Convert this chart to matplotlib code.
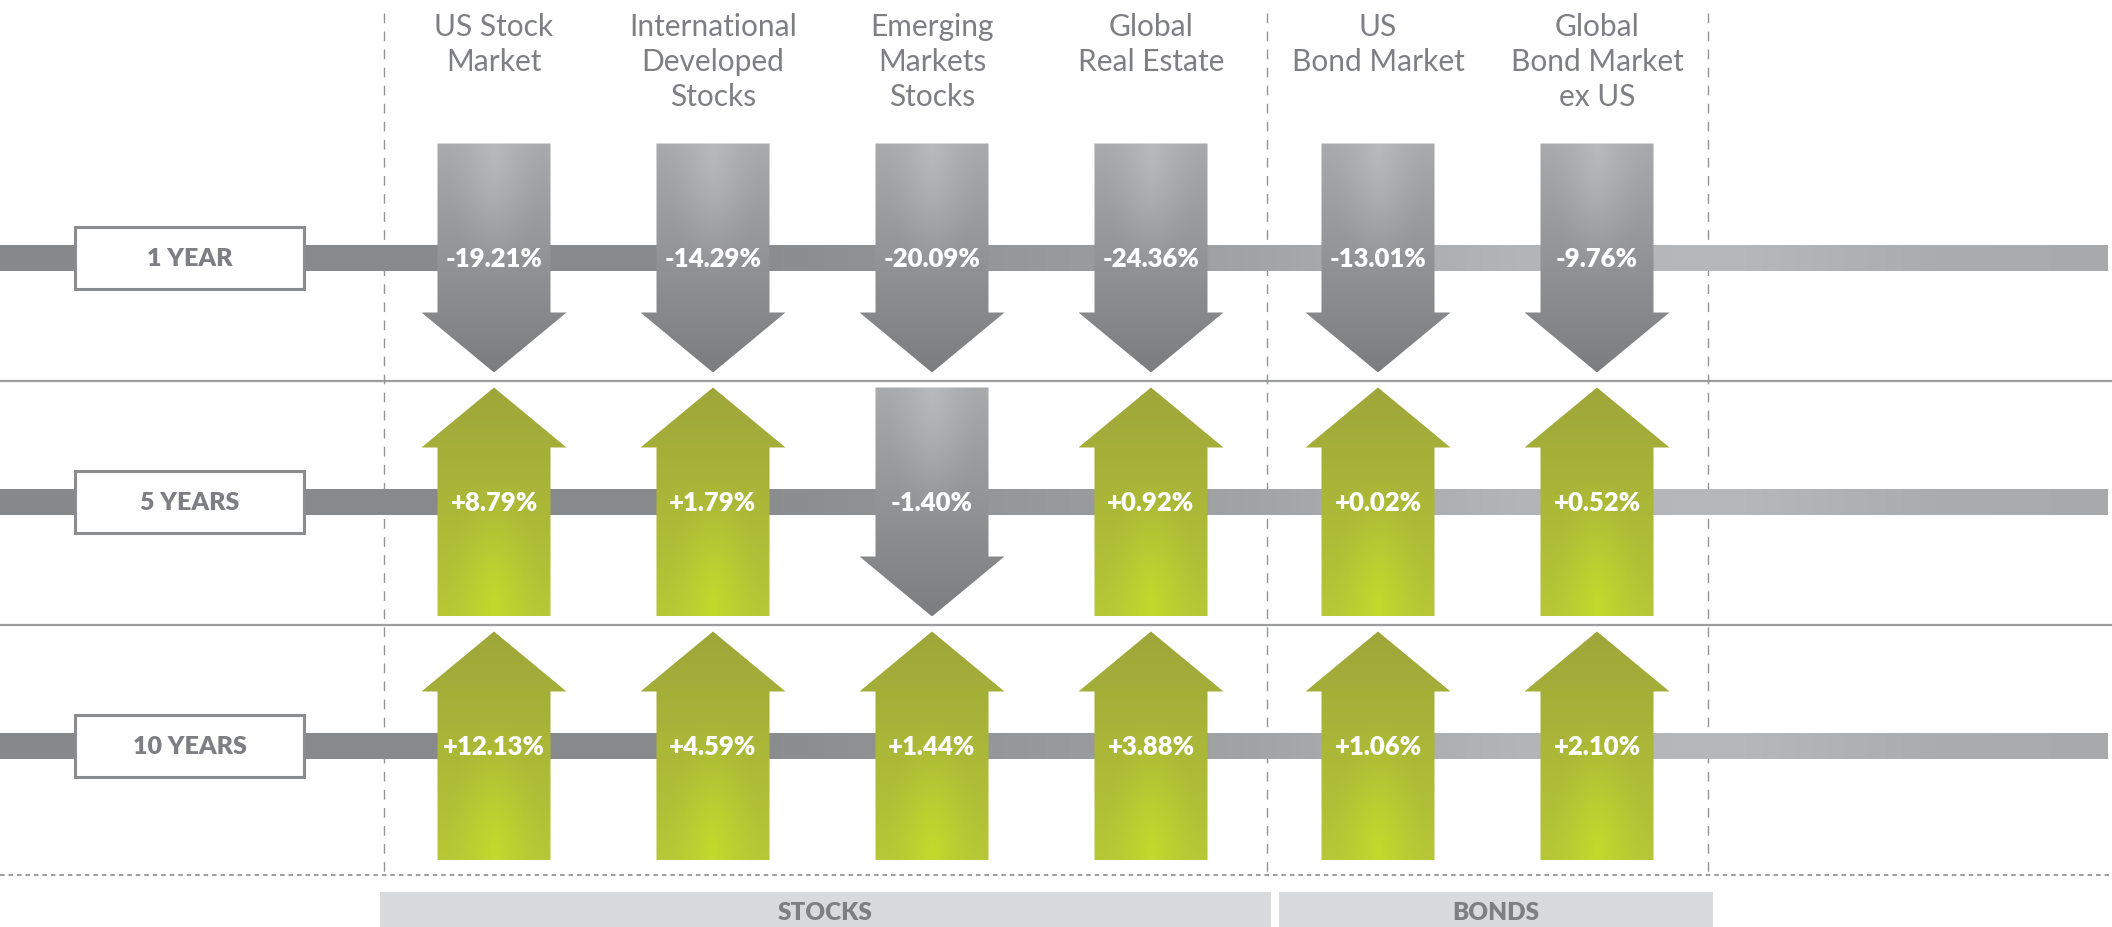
import numpy as np
import matplotlib.pyplot as plt
from matplotlib.patches import Polygon, Rectangle
from matplotlib.colors import LinearSegmentedColormap, to_rgb

plt.rcParams['font.family'] = ['Lato', 'DejaVu Sans']

# data
asset_classes = ['US Stock\nMarket', 'International\nDeveloped\nStocks', 'Emerging\nMarkets\nStocks',
                 'Global\nReal Estate', 'US\nBond Market', 'Global\nBond Market\nex US']
periods = ['1 YEAR', '5 YEARS', '10 YEARS']
returns_1y = [-19.21, -14.29, -20.09, -24.36, -13.01, -9.76]
returns_5y = [8.79, 1.79, -1.40, 0.92, 0.02, 0.52]
returns_10y = [12.13, 4.59, 1.44, 3.88, 1.06, 2.10]
groups = ['STOCKS', 'BONDS']
group_sizes = [4, 2]

# layout (pixel space of a 2112 x 927 canvas)
W, H = 2112, 927
col_x = [494 + 219 * i + (8 if i >= group_sizes[0] else 0) for i in range(len(asset_classes))]
row_y = [258, 502, 746]
TEXT_GRAY = '#7d7f82'
LINE_GRAY = '#939496'

fig = plt.figure(figsize=(W / 100, H / 100), dpi=100)
ax = fig.add_axes([0, 0, 1, 1])
ax.set_xlim(0, W)
ax.set_ylim(H, 0)
ax.axis('off')

# horizontal bands with gradient
band_cmap = LinearSegmentedColormap.from_list('band', [
    (0.0, '#87888a'), (0.35, '#8a8b8d'), (0.55, '#9d9ea0'),
    (0.72, '#b3b4b6'), (0.82, '#b7b8ba'), (0.92, '#abacae'), (1.0, '#a8a9ab')])
grad = np.linspace(0, 1, 512).reshape(1, -1)
for y in row_y:
    ax.imshow(grad, cmap=band_cmap, extent=(0, 2108, y + 13, y - 13), aspect='auto', zorder=1)

# separators
for y in [(row_y[0] + row_y[1]) / 2 + 1, (row_y[1] + row_y[2]) / 2 + 1]:
    ax.plot([0, W], [y, y], color='#9c9d9f', lw=1.6, zorder=0, solid_capstyle='butt')
ax.plot([0, W], [875, 875], color=LINE_GRAY, lw=1.3, ls=(0, (2.5, 2.2)), zorder=0)
for x in [384, 1267, 1708]:
    ax.plot([x, x], [13, 875], color=LINE_GRAY, lw=1.0, ls=(0, (7, 6)), zorder=0)

# period boxes
for y, lab in zip(row_y, periods):
    ax.add_patch(Rectangle((75, y - 31), 229, 62, facecolor='white', edgecolor='#8b8c8e', lw=2.2, zorder=3))
    ax.text(189.5, y + 1, lab, ha='center', va='center', fontsize=18, fontweight='heavy', color=TEXT_GRAY, zorder=4)


def arrow_fill(up):
    nx, ny = 80, 160
    xs = np.linspace(0, 1, nx)
    ts = np.linspace(0, 1, ny)
    X, T = np.meshgrid(xs, ts)
    if up:
        top, bot, hi = to_rgb('#9ea63a'), to_rgb('#b6c836'), to_rgb('#c3da2c')
        d = np.sqrt(((X - 0.5) * 1.3) ** 2 + ((T - 0.97) * 0.75) ** 2)
    else:
        top, bot, hi = to_rgb('#a9aaac'), to_rgb('#7c7d7f'), to_rgb('#b8b9bb')
        d = np.sqrt(((X - 0.5) * 1.3) ** 2 + ((T - 0.02) * 0.75) ** 2)
    top, bot, hi = np.array(top), np.array(bot), np.array(hi)
    base = top[None, None, :] + (bot - top)[None, None, :] * T[..., None]
    w = np.clip(1 - d / 0.45, 0, 1) ** 1.5
    return base * (1 - w[..., None]) + hi[None, None, :] * w[..., None]


def draw_arrow(cx, cy, value):
    half, head, sw, hw = 114.5, 60, 113, 145
    up = value >= 0
    if up:
        tip, bs, end = cy - half, cy - half + head, cy + half
    else:
        tip, bs, end = cy + half, cy + half - head, cy - half
    verts = [(cx - sw / 2, end), (cx - sw / 2, bs), (cx - hw / 2, bs), (cx, tip),
             (cx + hw / 2, bs), (cx + sw / 2, bs), (cx + sw / 2, end)]
    poly = Polygon(verts, closed=True, facecolor='none', edgecolor='none', transform=ax.transData)
    ax.add_patch(poly)
    im = ax.imshow(arrow_fill(up), extent=(cx - hw / 2, cx + hw / 2, cy + half, cy - half),
                   aspect='auto', zorder=2, interpolation='bilinear')
    im.set_clip_path(poly)
    ax.text(cx, cy + 1, f'{value:+.2f}%', ha='center', va='center', fontsize=18.5, fontweight='heavy',
            color='white', zorder=5)


for y, vals in zip(row_y, [returns_1y, returns_5y, returns_10y]):
    for x, v in zip(col_x, vals):
        draw_arrow(x, y, v)

# column headers
for x, name in zip(col_x, asset_classes):
    for k, line in enumerate(name.split('\n')):
        ax.text(x, 36 + 35 * k, line, ha='center', va='baseline', fontsize=21.5, color=TEXT_GRAY)

# group bars
group_edges = [(380, 1271), (1279, 1713)]
for (x0, x1), g in zip(group_edges, groups):
    ax.add_patch(Rectangle((x0, 892), x1 - x0, 40, facecolor='#d9dadb', edgecolor='none', zorder=1))
    ax.text((x0 + x1) / 2, 920, g, ha='center', va='baseline', fontsize=17.5, fontweight='heavy', color=TEXT_GRAY)

fig.savefig('out.png', dpi=100)
